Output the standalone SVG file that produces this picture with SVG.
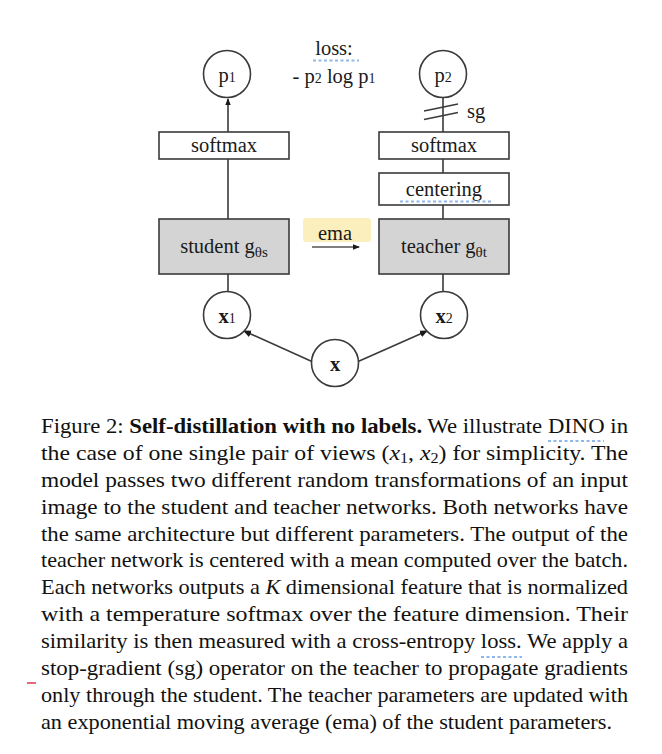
<svg xmlns="http://www.w3.org/2000/svg" width="662" height="754" viewBox="0 0 662 754">
<style>
.box{fill:#ffffff;stroke:#3a3a3a;stroke-width:1.6}
.net{fill:#d4d4d4;stroke:#3a3a3a;stroke-width:1.6}
.circ{fill:#ffffff;stroke:#3a3a3a;stroke-width:1.6}
.ln{stroke:#3a3a3a;stroke-width:1.6;fill:none}
.lbl{font-family:"Liberation Serif","Times New Roman",serif;font-size:20.5px;fill:#1a1a1a}
.cap{font-family:"Liberation Serif","Times New Roman",serif;font-size:22px;fill:#111111}
.dot{stroke:#8fb8ea;stroke-width:2.2;stroke-dasharray:3 2.5;fill:none}
</style>
<defs>
<marker id="ah" markerWidth="8" markerHeight="8" refX="7" refY="4" orient="auto" markerUnits="userSpaceOnUse">
<path d="M0,0.5 L8,4 L0,7.5 z" fill="#1a1a1a"/>
</marker>
<marker id="ahs" markerWidth="7" markerHeight="7" refX="6" refY="3.5" orient="auto" markerUnits="userSpaceOnUse">
<path d="M0,0.8 L7,3.5 L0,6.2 z" fill="#1a1a1a"/>
</marker>
</defs>
<rect width="662" height="754" fill="#ffffff"/>

<g id="connectors">
<line class="ln" x1="228" y1="132" x2="228" y2="99" marker-end="url(#ahs)"/>
<line class="ln" x1="228" y1="159" x2="228" y2="219"/>
<line class="ln" x1="228" y1="274" x2="228" y2="292"/>
<line class="ln" x1="443" y1="97" x2="443" y2="132"/>
<line class="ln" x1="443" y1="159" x2="443" y2="173"/>
<line class="ln" x1="443" y1="205" x2="443" y2="219"/>
<line class="ln" x1="443" y1="274" x2="443" y2="292"/>
<line class="ln" x1="313" y1="362" x2="244" y2="331" marker-end="url(#ah)"/>
<line class="ln" x1="357" y1="362" x2="427" y2="331" marker-end="url(#ah)"/>
<line stroke="#3a3a3a" stroke-width="1.4" x1="424" y1="111" x2="458" y2="104"/>
<line stroke="#3a3a3a" stroke-width="1.4" x1="424" y1="119.5" x2="458" y2="112.5"/>
<text class="lbl" x="467" y="118">sg</text>
</g>

<g id="loss">
<text class="lbl" x="334" y="55" text-anchor="middle">loss:</text>
<line class="dot" x1="313" y1="60.5" x2="359" y2="60.5"/>
<text class="lbl" x="334" y="83" text-anchor="middle">- p<tspan font-size="14">2</tspan> log p<tspan font-size="14">1</tspan></text>
</g>

<g id="p1">
<circle class="circ" cx="227" cy="74" r="23.5"/>
<text class="lbl" x="227" y="82" text-anchor="middle">p<tspan font-size="14">1</tspan></text>
</g>
<g id="p2">
<circle class="circ" cx="443" cy="74" r="23.5"/>
<text class="lbl" x="443" y="82" text-anchor="middle">p<tspan font-size="14">2</tspan></text>
</g>

<g id="softmax-s">
<rect class="box" x="159" y="132" width="130" height="27"/>
<text class="lbl" x="224" y="152" text-anchor="middle">softmax</text>
</g>
<g id="softmax-t">
<rect class="box" x="379" y="132" width="130" height="27"/>
<text class="lbl" x="444" y="152" text-anchor="middle">softmax</text>
</g>
<g id="centering">
<rect class="box" x="379" y="173" width="130" height="32"/>
<text class="lbl" x="444" y="196" text-anchor="middle">centering</text>
<line class="dot" x1="400" y1="201.5" x2="493" y2="201.5"/>
</g>

<g id="student">
<rect class="net" x="159" y="219" width="130" height="55"/>
<text class="lbl" x="224" y="253" text-anchor="middle" font-size="21.5">student g<tspan font-size="15" dy="4">θs</tspan></text>
</g>
<g id="teacher">
<rect class="net" x="379" y="219" width="130" height="55"/>
<text class="lbl" x="444" y="253" text-anchor="middle" font-size="21.5">teacher g<tspan font-size="15" dy="4">θt</tspan></text>
</g>

<g id="ema">
<rect x="303" y="218" width="68" height="24" rx="3" fill="#fbe9a8" opacity="0.75"/>
<text class="lbl" x="335" y="240" text-anchor="middle">ema</text>
<line stroke="#555555" stroke-width="1.3" x1="312" y1="247" x2="359" y2="247" marker-end="url(#ahs)"/>
</g>

<g id="x1">
<circle class="circ" cx="227" cy="315" r="23.5"/>
<text class="lbl" x="227" y="323" text-anchor="middle"><tspan font-weight="bold">x</tspan><tspan font-size="14">1</tspan></text>
</g>
<g id="x2">
<circle class="circ" cx="444" cy="315" r="23.5"/>
<text class="lbl" x="444" y="323" text-anchor="middle"><tspan font-weight="bold">x</tspan><tspan font-size="14">2</tspan></text>
</g>
<g id="x">
<circle class="circ" cx="335" cy="363" r="23.5"/>
<text class="lbl" x="335" y="371" text-anchor="middle" font-weight="bold">x</text>
</g>

<g id="caption">
<text class="cap" x="41" y="433" textLength="587" lengthAdjust="spacingAndGlyphs">Figure 2: <tspan font-weight="bold">Self-distillation with no labels.</tspan> We illustrate DINO in</text>
<line class="dot" x1="548" y1="441" x2="604" y2="441"/>
<text class="cap" x="41" y="460" textLength="587" lengthAdjust="spacingAndGlyphs">the case of one single pair of views (<tspan font-style="italic">x</tspan><tspan font-size="15" dy="3">1</tspan><tspan dy="-3">, </tspan><tspan font-style="italic">x</tspan><tspan font-size="15" dy="3">2</tspan><tspan dy="-3">) for simplicity.  The</tspan></text>
<text class="cap" x="41" y="487" textLength="587" lengthAdjust="spacingAndGlyphs">model passes two different random transformations of an input</text>
<text class="cap" x="41" y="514" textLength="587" lengthAdjust="spacingAndGlyphs">image to the student and teacher networks.  Both networks have</text>
<text class="cap" x="41" y="541" textLength="587" lengthAdjust="spacingAndGlyphs">the same architecture but different parameters. The output of the</text>
<text class="cap" x="41" y="567" textLength="587" lengthAdjust="spacingAndGlyphs">teacher network is centered with a mean computed over the batch.</text>
<text class="cap" x="41" y="594" textLength="587" lengthAdjust="spacingAndGlyphs">Each networks outputs a <tspan font-style="italic">K</tspan> dimensional feature that is normalized</text>
<text class="cap" x="41" y="621" textLength="587" lengthAdjust="spacingAndGlyphs">with a temperature softmax over the feature dimension.  Their</text>
<text class="cap" x="41" y="648" textLength="587" lengthAdjust="spacingAndGlyphs">similarity is then measured with a cross-entropy loss. We apply a</text>
<line class="dot" x1="481" y1="657" x2="522" y2="657"/>
<text class="cap" x="41" y="675" textLength="587" lengthAdjust="spacingAndGlyphs">stop-gradient (sg) operator on the teacher to propagate gradients</text>
<text class="cap" x="41" y="702" textLength="587" lengthAdjust="spacingAndGlyphs">only through the student. The teacher parameters are updated with</text>
<text class="cap" x="41" y="729" textLength="571" lengthAdjust="spacingAndGlyphs">an exponential moving average (ema) of the student parameters.</text>
</g>
<line stroke="#e0405a" stroke-width="1.6" x1="27" y1="683" x2="36" y2="683"/>
</svg>
